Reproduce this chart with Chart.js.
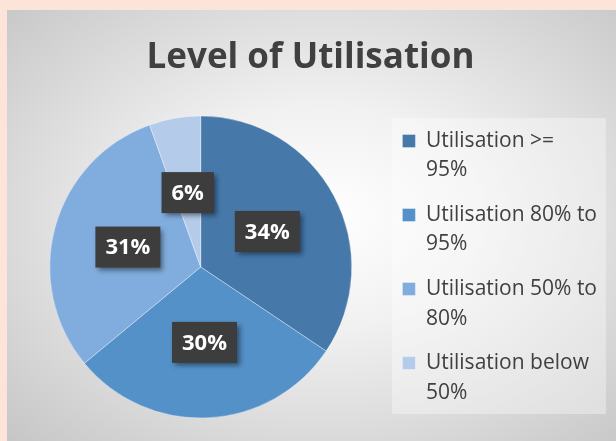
<!DOCTYPE html>
<html>
<head>
<meta charset="utf-8">
<script src="https://cdn.jsdelivr.net/npm/chart.js@4.4.1/dist/chart.umd.min.js"></script>
<style>
  html,body{margin:0;padding:0;background:#fde4d8;width:616px;height:441px;overflow:hidden}
  #panel{position:absolute;left:7px;top:10px;width:609px;height:431px;
    background:radial-gradient(ellipse farthest-corner at 52% 48%, #ffffff 0%, #f1f1f1 35%, #c6c6c6 100%)}
</style>
</head>
<body>
<div id="panel"><canvas id="chart"></canvas></div>
<script>
// data
const titleText = 'Level of Utilisation'
const categories = [
  ['Utilisation >=', '95%'],
  ['Utilisation 80% to', '95%'],
  ['Utilisation 50% to', '80%'],
  ['Utilisation below', '50%']
]
const shares = [34.4, 29.6, 30.5, 5.5]   // percent of total
const sliceColors = ['#4678aa', '#5491c8', '#80addd', '#b4cbe9']

const FONT = '"Open Sans", "Noto Sans", sans-serif'

// light box behind the legend
const legendBack = {
  id: 'legendBack',
  beforeDraw(chart){
    const lg = chart.legend, ctx = chart.ctx
    ctx.save()
    ctx.fillStyle = 'rgba(255,255,255,0.35)'
    ctx.fillRect(lg.left + 4.5, 108, 214, 296)
    ctx.restore()
  }
}

// dark percentage boxes in each slice
const labelBoxes = {
  id: 'labelBoxes',
  afterDatasetsDraw(chart){
    const ctx = chart.ctx
    const meta = chart.getDatasetMeta(0)
    ctx.save()
    ctx.font = 'bold 22px ' + FONT
    ctx.textAlign = 'center'
    ctx.textBaseline = 'middle'
    meta.data.forEach((arc, i) => {
      const {x, y} = arc.tooltipPosition()
      const txt = Math.round(shares[i]) + '%'
      const w = ctx.measureText(txt).width + 20, h = 41
      ctx.shadowColor = 'rgba(0,0,0,0.45)'
      ctx.shadowBlur = 5
      ctx.shadowOffsetX = 3
      ctx.shadowOffsetY = 3
      ctx.fillStyle = '#3d3d3d'
      ctx.fillRect(x - w/2, y - h/2, w, h)
      ctx.shadowColor = 'transparent'
      ctx.fillStyle = '#ffffff'
      ctx.fillText(txt, x, y + 1)
    })
    ctx.restore()
  }
}

new Chart(document.getElementById('chart').getContext('2d'), {
  type: 'pie',
  data: {
    labels: categories,
    datasets: [{
      data: shares,
      backgroundColor: sliceColors,
      borderColor: 'rgba(255,255,255,0.35)',
      borderWidth: 1,
      radius: 151
    }]
  },
  options: {
    responsive: true,
    maintainAspectRatio: false,
    animation: false,
    layout: { padding: { left: 7, right: 9, top: 0, bottom: 0 } },
    plugins: {
      title: {
        display: true, text: titleText, color: '#404040',
        font: { family: FONT, size: 35, weight: 'bold', lineHeight: 1.2 },
        padding: { top: 27, bottom: 14 }
      },
      legend: {
        position: 'right',
        align: 'start',
        // empty title only used as top spacer
        title: { display: true, text: '', font: { size: 1, lineHeight: 1 }, padding: { top: 104.5, bottom: 0 } },
        labels: {
          color: '#404040', boxWidth: 13, boxHeight: 13, padding: 15,
          font: { family: FONT, size: 21, lineHeight: 1.405 }
        }
      },
      tooltip: { enabled: false }
    }
  },
  plugins: [legendBack, labelBoxes]
})
</script>
</body>
</html>
